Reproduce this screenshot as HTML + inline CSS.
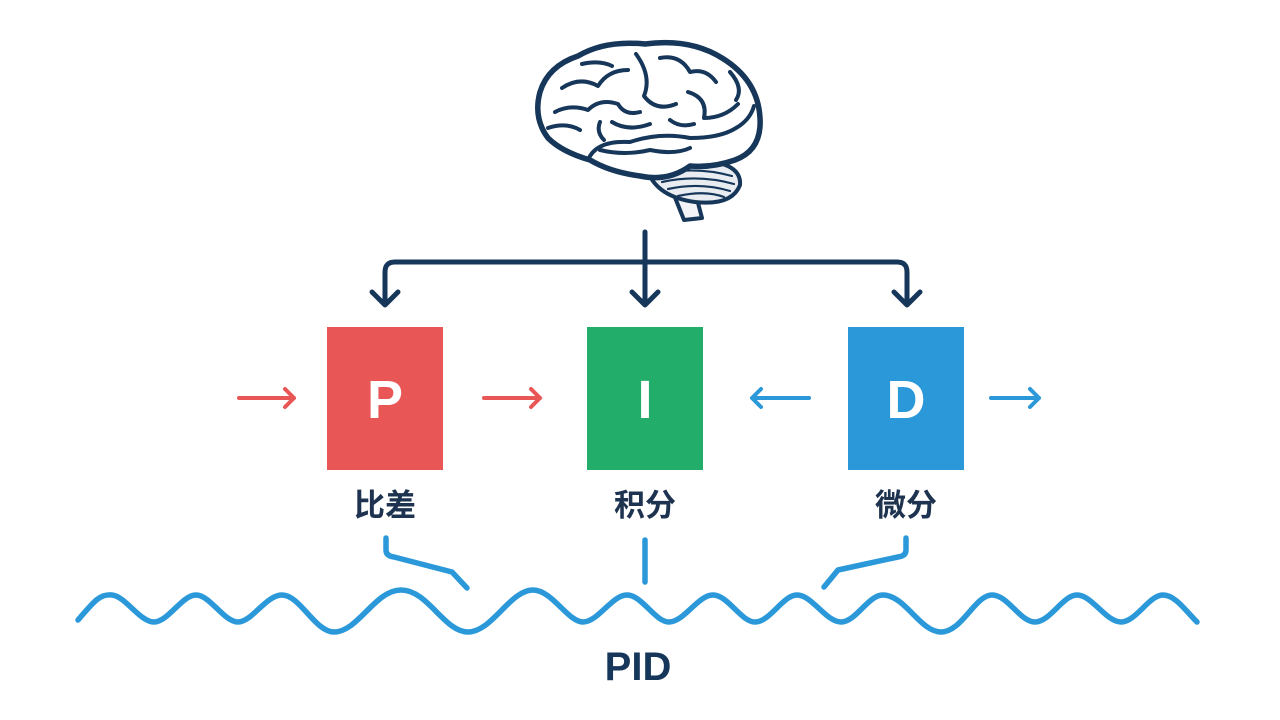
<!DOCTYPE html>
<html><head><meta charset="utf-8"><style>
html,body{margin:0;padding:0;background:#fff;}
body{width:1280px;height:720px;overflow:hidden;position:relative;font-family:"Liberation Sans","Noto Sans CJK SC",sans-serif;}
svg{position:absolute;left:0;top:0;}
</style></head><body>
<svg width="1280" height="720" viewBox="0 0 1280 720" xmlns="http://www.w3.org/2000/svg">
<!-- brain -->
<g stroke="#16365a" stroke-linejoin="round" stroke-linecap="round">
  <path d="M668 180 L684 220 L702 218 L694 188 Z" fill="#f2f4f7" stroke-width="4"/>
  <path d="M648 172 Q660 158 700 160 Q742 163 740 185 Q732 206 695 202 Q658 197 648 172 Z" fill="#e9edf2" stroke-width="4"/>
  <g stroke-width="2.2" fill="none">
    <path d="M660 174 Q695 166 732 176"/><path d="M662 182 Q698 174 734 184"/><path d="M668 189 Q700 182 730 191"/><path d="M678 196 Q705 190 724 197"/>
  </g>
  <path d="M548 138 Q533 118 540 92 Q548 66 578 56 Q605 40 645 44 Q690 38 722 58 Q758 80 760 118 Q762 150 735 160 Q712 168 690 166 Q668 182 640 176 Q610 172 590 160 Q562 152 548 138 Z" fill="#fff" stroke-width="5.5"/>
  <g stroke-width="4" fill="none">
    <path d="M588 160 Q596 140 630 142 Q660 132 690 138 Q720 138 736 128 Q750 120 754 106"/>
    <path d="M600 150 Q625 156 650 150 Q675 155 690 148"/>
    <path d="M555 112 Q570 104 588 110 Q600 98 618 104 Q625 116 640 112"/>
    <path d="M562 88 Q580 76 598 86 Q608 70 628 70"/>
    <path d="M582 64 Q600 60 612 66"/>
    <path d="M636 54 Q652 76 644 96 Q656 112 676 104"/>
    <path d="M660 58 Q680 54 690 72 Q706 68 716 82"/>
    <path d="M688 92 Q708 98 704 118 Q724 118 738 104"/>
    <path d="M548 128 Q566 122 580 130"/>
    <path d="M612 122 Q628 132 650 124"/>
    <path d="M730 72 Q744 88 736 100"/>
    <path d="M600 122 Q596 132 604 140"/>
    <path d="M670 120 Q680 128 694 124"/>
  </g>
</g>
<!-- top connectors -->
<g stroke="#16365a" stroke-width="5" fill="none" stroke-linecap="round" stroke-linejoin="round">
  <path d="M645 232 L645 304"/>
  <path d="M385 302 L385 272 Q385 262 395 262 L897 262 Q907 262 907 272 L907 302"/>
  <path d="M372 292 L385 305 L398 292"/>
  <path d="M632 292 L645 305 L658 292"/>
  <path d="M894 292 L907 305 L920 292"/>
</g>
<!-- boxes -->
<rect x="327" y="327" width="116" height="143" fill="#e85656"/>
<rect x="587" y="327" width="116" height="143" fill="#22ad6b"/>
<rect x="848" y="327" width="116" height="143" fill="#2a98d9"/>
<g fill="#fff" font-family="Liberation Sans, sans-serif" font-weight="bold" font-size="54" text-anchor="middle">
  <text x="385" y="418">P</text><text x="645" y="418">I</text><text x="906" y="418">D</text>
</g>
<!-- side arrows -->
<g stroke-width="4" fill="none" stroke-linecap="round" stroke-linejoin="round">
  <g stroke="#e85656"><path d="M239 398 L294 398 M285 389 L294 398 L285 407"/><path d="M484 398 L540 398 M531 389 L540 398 L531 407"/></g>
  <g stroke="#2a98d9"><path d="M752 398 L809 398 M761 389 L752 398 L761 407"/><path d="M991 398 L1039 398 M1030 389 L1039 398 L1030 407"/></g>
</g>
<!-- labels -->
<g fill="#1e3350" font-size="31" font-weight="bold" font-family="Liberation Sans, Noto Sans CJK SC, sans-serif" text-anchor="middle">
  <text x="385" y="516">比差</text><text x="645" y="516">积分</text><text x="906" y="516">微分</text>
</g>
<!-- lower connectors & wave -->
<g stroke="#2a98d9" stroke-width="5.5" fill="none" stroke-linecap="round" stroke-linejoin="round">
  <path d="M386 538 L386 550 Q386 556 394 557 L452 572 L467 588"/>
  <path d="M645 540 L645 582"/>
  <path d="M906 538 L906 550 Q906 556 898 557 L838 570 L824 587"/>
  <path d="M78 620 C95 600,100 594,112 595 C125 596,140 622,154 622 C168 622,182 595,196 595 C210 595,224 622,238 622 C252 622,266 595,282 595 C300 595,315 632,334 632 C358 632,375 590,401 590 C428 590,444 632,468 632 C492 632,510 590,533 590 C552 590,568 622,583 622 C598 622,612 595,627 595 C642 595,655 622,669 622 C684 622,698 595,713 595 C728 595,741 622,755 622 C770 622,783 595,797 595 C812 595,826 622,841 622 C856 622,868 595,883 595 C905 595,920 632,941 632 C962 632,975 595,992 595 C1008 595,1020 622,1035 622 C1050 622,1063 595,1077 595 C1092 595,1106 622,1121 622 C1136 622,1149 595,1163 595 C1175 595,1185 610,1197 622"/>
</g>
<text x="638" y="680" fill="#16365a" font-family="Liberation Sans, sans-serif" font-weight="bold" font-size="40" text-anchor="middle">PID</text>
</svg>
</body></html>
